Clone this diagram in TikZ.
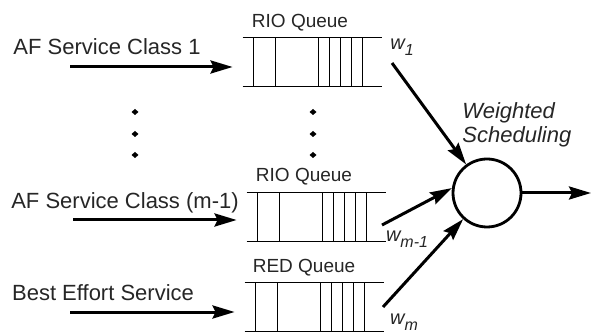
\documentclass[tikz,border=0pt]{standalone}
\usepackage{fontspec}
\setmainfont{Liberation Sans}
\usetikzlibrary{arrows.meta}
\usetikzlibrary{calc}

\begin{document}
\begin{tikzpicture}[x=0.5pt,y=-0.5pt,
    flow/.style={line width=1.5pt, -{Stealth[length=11pt,width=6.5pt,inset=1.5pt]}},
    queuebox/.style={inner sep=0pt, minimum width=69.5pt, minimum height=24pt},
    qlabel/.style={font=\fontsize{9.5}{11}\selectfont, anchor=base, text=black!85},
    inlabel/.style={font=\fontsize{11}{13}\selectfont, anchor=base, text=black!85},
    wlabel/.style={font=\fontsize{10}{12}\selectfont\itshape, inner sep=0pt, text=black!85}]
\useasboundingbox (0,0) rectangle (592,335);

% Three queues, open on both ends
\foreach \n/\x/\y in {q1/243/38, q2/247/193, q3/245/283} {
    \node[queuebox] (\n) at (\x+69.5,\y+24) {};
    \draw[line width=0.6pt] (\n.north west) -- (\n.north east);
    \draw[line width=0.6pt] (\n.south west) -- (\n.south east);
    \foreach \d in {11,33,76,87,98,109,120}
        \draw[line width=0.6pt] ($(\n.north west)+(\d,0)$) -- ($(\n.south west)+(\d,0)$);
}
\node[qlabel] (l1) at (300,28) {RIO Queue};
\node[qlabel] (l2) at (304,182) {RIO Queue};
\node[qlabel] (l3) at (304,273) {RED Queue};

% Incoming traffic classes
\node[inlabel] (c1) at (107,55) {AF Service Class 1};
\node[inlabel] (c2) at (125,209) {AF Service Class (m-1)};
\node[inlabel] (c3) at (103,300) {Best Effort Service};
\coordinate (s1) at (70,67);
\coordinate (s2) at (73,220);
\coordinate (s3) at (70,312);
\draw[flow, shorten >=5pt] (s1) -- (s1 -| q1.west);
\draw[flow, shorten >=5pt] (s2) -- (s2 -| q2.west);
\draw[flow, shorten >=5pt] (s3) -- (s3 -| q3.west);

% Dots between the classes
\foreach \x in {135,313} {
    \foreach \y in {112,134,155} {
        \fill (\x,\y) +(-3.5,0) -- +(0,-3) -- +(3.5,0) -- +(0,3) -- cycle;
    }
}

% Scheduler
\node[circle, draw, line width=1.4pt, minimum size=34pt, inner sep=0pt] (sched) at (487,193) {};
\node[font=\fontsize{11}{12}\selectfont\itshape, align=left, anchor=west, inner sep=0pt, text=black!85] (wtxt) at (462,125) {Weighted\\Scheduling};
\coordinate (o1) at (392,63);
\coordinate (o2) at (382,225);
\coordinate (o3) at (383,307);
\draw[flow] (o1) -- (sched);
\draw[flow] (o2) -- (sched.172);
\draw[flow] (o3) -- (sched);
\coordinate (out) at (591,193);
\draw[flow] (sched) -- (out);

% Weights
\node[wlabel] (w1) at (402,47) {w\raisebox{-0.6ex}{\fontsize{8}{9}\selectfont 1}};
\node[wlabel] (w2) at (407,239) {w\raisebox{-0.6ex}{\fontsize{8}{9}\selectfont m-1}};
\node[wlabel] (w3) at (404,322) {w\raisebox{-0.6ex}{\fontsize{8}{9}\selectfont m}};
\end{tikzpicture}
\end{document}
